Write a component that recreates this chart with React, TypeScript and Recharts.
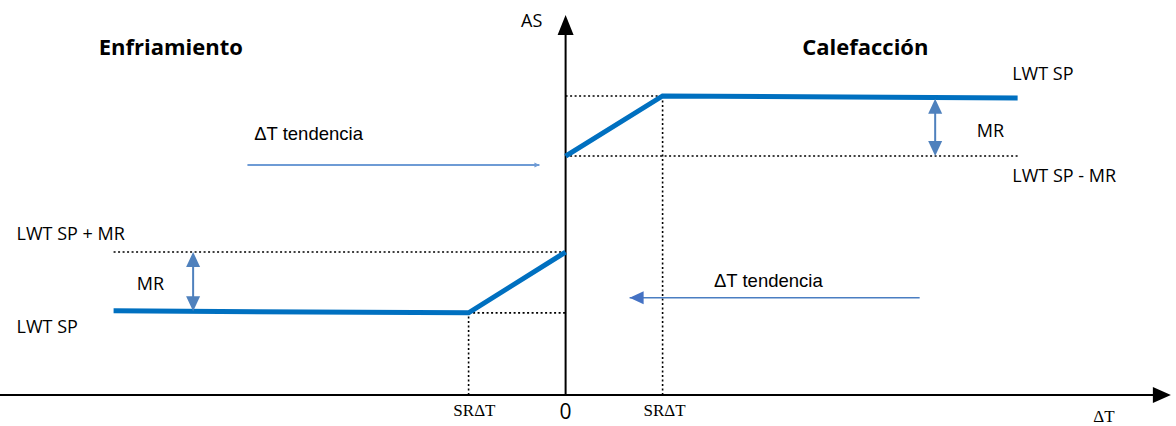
import React from "react";
import { ComposedChart, Line, XAxis, YAxis, ReferenceLine, ReferenceDot } from "recharts";

// x in units of SRΔT, y in arbitrary units (0..100)
const heatingLine = [
  { x: 0, y: 60.5 },
  { x: 1, y: 75.7 },
  { x: 4.66, y: 75.2 },
];
const coolingLine = [
  { x: -4.66, y: 21.3 },
  { x: -1, y: 20.8 },
  { x: 0, y: 36.2 },
];

const heatSP = 75.7;
const heatSPmMR = 60.5;
const coolSP = 20.8;
const coolSPpMR = 36.2;
const lineEnd = 4.66;
const srdt = 1;

const mrArrows = [
  { x: 3.81, top: 75.0, bottom: 60.5 },
  { x: -3.84, top: 36.2, bottom: 21.2 },
];
const trendArrows = [
  { from: -3.28, to: -0.27, y: 58.2, head: "small" },
  { from: 3.65, to: 0.66, y: 24.6, head: "big" },
];

const labels = [
  { text: "Enfriamiento", x: -4.07, y: 88.4, anchor: "middle", size: 22, bold: true, font: "sans" },
  { text: "Calefacción", x: 3.09, y: 88.4, anchor: "middle", size: 22, bold: true, font: "sans" },
  { text: "AS", x: -0.35, y: 94.9, anchor: "middle", size: 18, bold: false, font: "sans" },
  { text: "LWT SP", x: 4.92, y: 81.5, anchor: "middle", size: 18, bold: false, font: "sans" },
  { text: "MR", x: 4.38, y: 67.1, anchor: "middle", size: 18, bold: false, font: "sans" },
  { text: "LWT SP - MR", x: 5.14, y: 55.7, anchor: "middle", size: 18, bold: false, font: "sans" },
  { text: "ΔT tendencia", x: -3.21, y: 66.3, anchor: "start", size: 18.5, bold: false, font: "arial" },
  { text: "LWT SP + MR", x: -5.66, y: 41.0, anchor: "start", size: 18, bold: false, font: "sans" },
  { text: "MR", x: -4.28, y: 28.4, anchor: "middle", size: 18, bold: false, font: "sans" },
  { text: "LWT SP", x: -5.66, y: 17.5, anchor: "start", size: 18, bold: false, font: "sans" },
  { text: "ΔT tendencia", x: 1.53, y: 29.1, anchor: "start", size: 18.5, bold: false, font: "arial" },
  { text: "SRΔT", x: -0.94, y: -4.05, anchor: "middle", size: 17, bold: false, font: "serif" },
  { text: "0", x: 0, y: -4.05, anchor: "middle", size: 21, bold: false, font: "sans" },
  { text: "SRΔT", x: 1.02, y: -4.05, anchor: "middle", size: 17, bold: false, font: "serif" },
  { text: "ΔT", x: 5.55, y: -5.5, anchor: "middle", size: 17, bold: false, font: "serif" },
];

const fontMap: Record<string, string> = {
  sans: "'Open Sans', sans-serif",
  arial: "'Liberation Sans', Arial, sans-serif",
  serif: "'Liberation Serif', 'DejaVu Serif', serif",
};

const BLUE = "#0070C0";
const MRBLUE = "#4F81BD";
const TRENDBLUE = "#6E9BD5";

const Tri = (dir: "up" | "down" | "left" | "right", w: number, h: number, color: string) => (props: any) => {
  const { cx, cy } = props;
  let pts = "";
  if (dir === "up") pts = `${cx},${cy} ${cx - w / 2},${cy + h} ${cx + w / 2},${cy + h}`;
  if (dir === "down") pts = `${cx},${cy} ${cx - w / 2},${cy - h} ${cx + w / 2},${cy - h}`;
  if (dir === "right") pts = `${cx},${cy} ${cx - h},${cy - w / 2} ${cx - h},${cy + w / 2}`;
  if (dir === "left") pts = `${cx},${cy} ${cx + h},${cy - w / 2} ${cx + h},${cy + w / 2}`;
  return <polygon points={pts} fill={color} stroke="none" />;
};

const TextShape = (l: any) => (props: any) => (
  <text
    x={props.cx}
    y={props.cy}
    textAnchor={l.anchor}
    dominantBaseline="central"
    fontFamily={fontMap[l.font]}
    fontSize={l.size}
    fontWeight={l.bold ? 700 : 400}
    fill="#000"
  >
    {l.text}
  </text>
);

const dotted = { stroke: "#000", strokeWidth: 1.6, strokeDasharray: "2 2.5", ifOverflow: "visible" as const };

export default function App() {
  return (
    <div style={{ position: "absolute", left: 0, top: 0, background: "#fff" }}>
      <ComposedChart width={1176} height={426} margin={{ top: 0, right: 9, bottom: 31, left: 3 }}>
        <XAxis type="number" dataKey="x" domain={[-5.8, 6.2]} hide allowDataOverflow />
        <YAxis type="number" dataKey="y" domain={[0, 100]} hide allowDataOverflow />

        {/* dotted guides */}
        <ReferenceLine segment={[{ x: -lineEnd, y: coolSPpMR }, { x: 0, y: coolSPpMR }]} {...dotted} />
        <ReferenceLine segment={[{ x: -srdt, y: coolSP }, { x: 0, y: coolSP }]} {...dotted} />
        <ReferenceLine segment={[{ x: -srdt, y: 0 }, { x: -srdt, y: coolSP }]} {...dotted} />
        <ReferenceLine segment={[{ x: srdt, y: 0 }, { x: srdt, y: heatSP }]} {...dotted} />
        <ReferenceLine segment={[{ x: 0, y: heatSP }, { x: srdt, y: heatSP }]} {...dotted} />
        <ReferenceLine segment={[{ x: 0, y: heatSPmMR }, { x: lineEnd, y: heatSPmMR }]} {...dotted} />

        {/* axes */}
        <ReferenceLine segment={[{ x: -5.84, y: 0 }, { x: 6.1, y: 0 }]} stroke="#000" strokeWidth={2} ifOverflow="visible" />
        <ReferenceLine segment={[{ x: 0, y: 0 }, { x: 0, y: 92 }]} stroke="#000" strokeWidth={2} ifOverflow="visible" />
        <ReferenceDot x={6.24} y={0} r={0} ifOverflow="visible" shape={Tri("right", 16, 18, "#000")} />
        <ReferenceDot x={0} y={96.2} r={0} ifOverflow="visible" shape={Tri("up", 16, 20, "#000")} />

        {/* MR arrows */}
        {mrArrows.map((a, i) => (
          <ReferenceLine key={"mr" + i} segment={[{ x: a.x, y: a.top - 3 }, { x: a.x, y: a.bottom + 3 }]} stroke={MRBLUE} strokeWidth={2} ifOverflow="visible" />
        ))}
        {mrArrows.map((a, i) => (
          <ReferenceDot key={"mrt" + i} x={a.x} y={a.top} r={0} ifOverflow="visible" shape={Tri("up", 14, 15, MRBLUE)} />
        ))}
        {mrArrows.map((a, i) => (
          <ReferenceDot key={"mrb" + i} x={a.x} y={a.bottom} r={0} ifOverflow="visible" shape={Tri("down", 14, 15, MRBLUE)} />
        ))}

        {/* trend arrows */}
        {trendArrows.map((a, i) => (
          <ReferenceLine key={"tr" + i} segment={[{ x: a.from, y: a.y }, { x: a.to, y: a.y }]} stroke={a.head === "big" ? "#4A7EC2" : TRENDBLUE} strokeWidth={a.head === "big" ? 1.5 : 2} ifOverflow="visible" />
        ))}
        {trendArrows.map((a, i) => (
          <ReferenceDot
            key={"trh" + i}
            x={a.to}
            y={a.y}
            r={0}
            ifOverflow="visible"
            shape={a.head === "big" ? Tri(a.to < a.from ? "left" : "right", 13, 14, "#4472C4") : Tri(a.to < a.from ? "left" : "right", 5, 5, TRENDBLUE)}
          />
        ))}

        {/* main lines */}
        <Line data={heatingLine} dataKey="y" type="linear" stroke={BLUE} strokeWidth={5} dot={false} isAnimationActive={false} />
        <Line data={coolingLine} dataKey="y" type="linear" stroke={BLUE} strokeWidth={5} dot={false} isAnimationActive={false} />

        {/* labels */}
        {labels.map((l, i) => (
          <ReferenceDot key={"l" + i} x={l.x} y={l.y} r={0} ifOverflow="visible" shape={TextShape(l)} />
        ))}
      </ComposedChart>
    </div>
  );
}
